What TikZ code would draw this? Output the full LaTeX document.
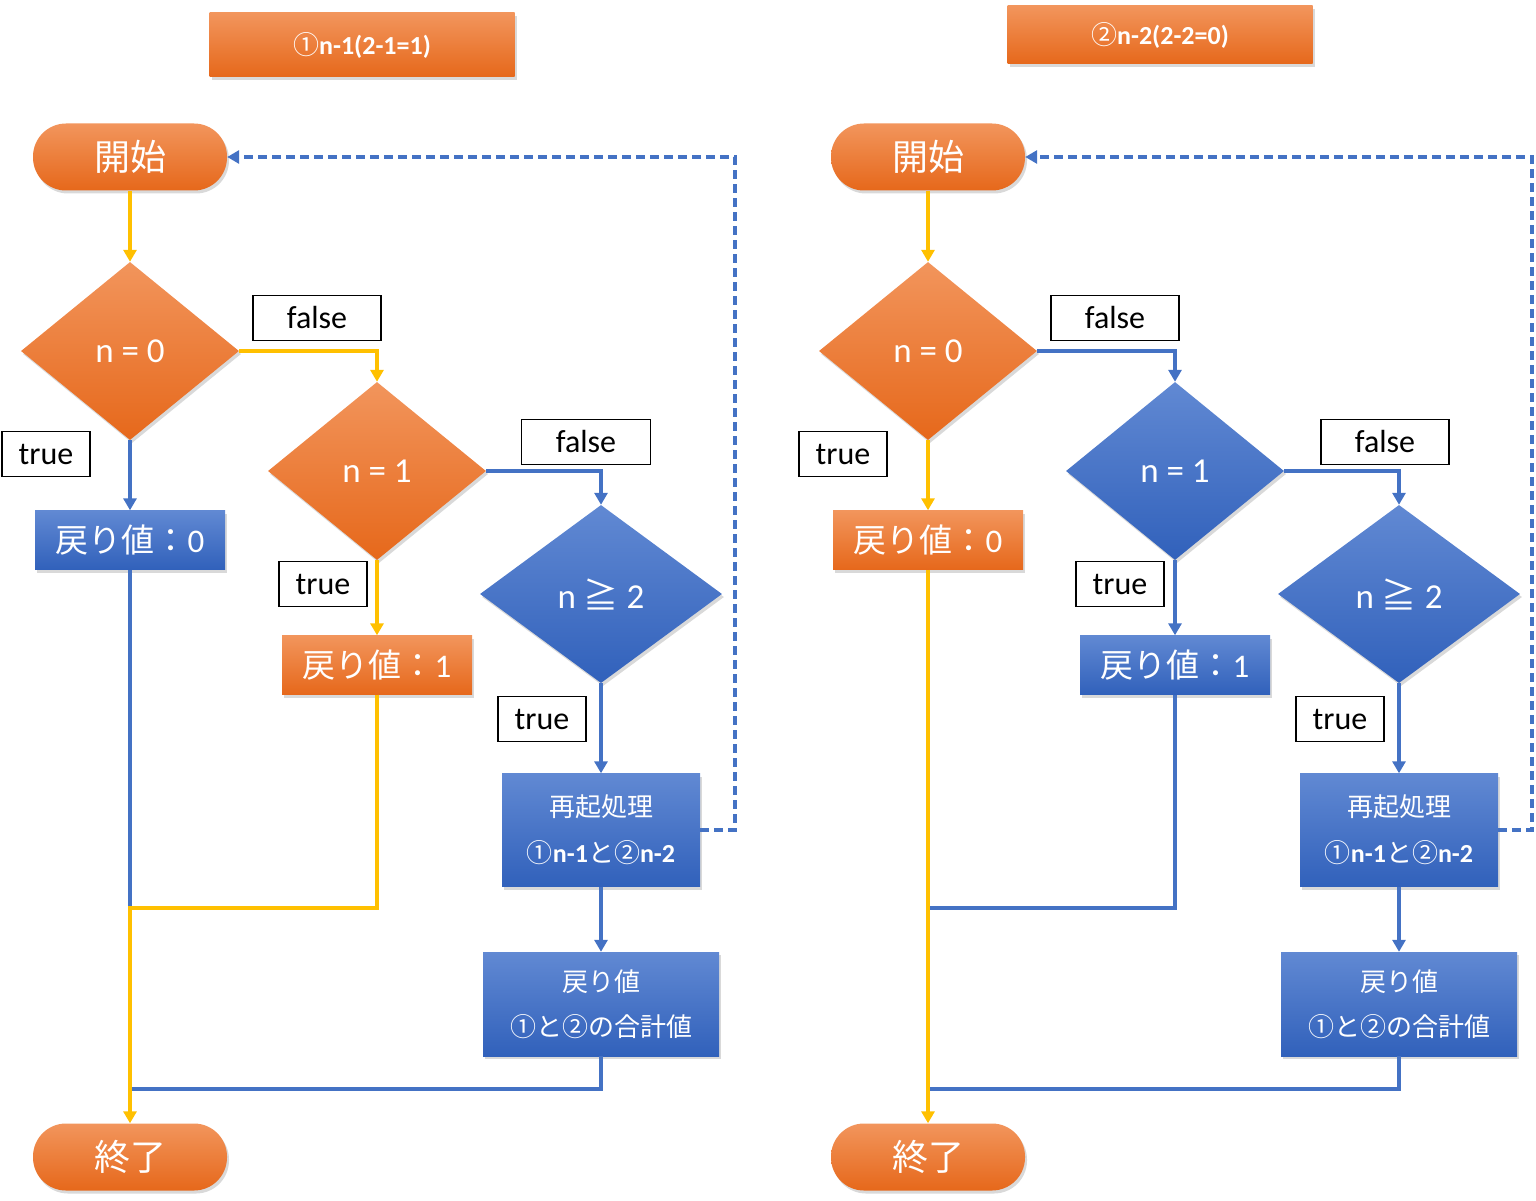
\documentclass[tikz,border=0pt]{standalone}
\usepackage{fontspec}
\setmainfont{Carlito}
\newfontfamily\jpfont{Noto Sans CJK JP}
\usetikzlibrary{arrows.meta,shapes.geometric,shadows}

\definecolor{orgT}{HTML}{F2955C}
\definecolor{orgB}{HTML}{E6681B}
\definecolor{bluT}{HTML}{6189D3}
\definecolor{bluB}{HTML}{3161BB}
\definecolor{lineY}{HTML}{FFC000}
\definecolor{lineB}{HTML}{4472C4}

\tikzset{
  flowtip/.style={-{Triangle[length=12pt,width=13pt]}},
  ylwline/.style={draw=lineY, line width=4pt},
  bluline/.style={draw=lineB, line width=4pt},
  loopline/.style={draw=lineB, line width=4pt, dash pattern=on 9pt off 5pt},
  softshadow/.style={drop shadow={shadow xshift=2pt, shadow yshift=-3pt, opacity=0.3}},
  orgfill/.style={top color=orgT, bottom color=orgB, softshadow},
  blufill/.style={top color=bluT, bottom color=bluB, softshadow},
  titlebox/.style={minimum width=305pt, inner sep=0pt, text=white,
    font=\fontsize{26}{30}\selectfont},
  termbox/.style={rounded corners=33pt, minimum width=194pt, minimum height=67pt,
    inner sep=0pt, text=white, font=\fontsize{36}{40}\selectfont\jpfont},
  decbox/.style={diamond, minimum width=218pt, minimum height=178pt, inner sep=0pt,
    text=white, font=\fontsize{35}{40}\selectfont},
  retbox/.style={minimum width=190pt, minimum height=59pt, inner sep=0pt,
    text=white, font=\fontsize{33}{38}\selectfont},
  procbox/.style={minimum width=198pt, minimum height=113pt, inner sep=0pt, align=center,
    text=white, font=\fontsize{26}{46}\selectfont},
  sumbox/.style={minimum width=236pt, minimum height=104pt, inner sep=0pt, align=center,
    text=white, font=\fontsize{26}{45}\selectfont\jpfont},
  tagbox/.style={draw=black, line width=1.5pt, fill=white, minimum height=45pt,
    inner sep=0pt, font=\fontsize{32}{36}\selectfont}
}

\begin{document}
\begin{tikzpicture}[x=1pt, y=-1pt]

  %% ════ 标题 ════
  \node[titlebox, orgfill, minimum height=64pt] (ltitle) at (362,45) {{\jpfont ①}\textbf{n-1(2-1=1)}};
  \node[titlebox, orgfill, minimum height=58pt] (rtitle) at (1160,35) {{\jpfont ②}\textbf{n-2(2-2=0)}};

  %% ════ 左图：节点 ════
  \node[termbox, orgfill] (lstart) at (130,157) {開始};
  \node[decbox, orgfill] (ln0) at (130,351) {n = 0};
  \node[decbox, orgfill] (ln1) at (377,471) {n = 1};
  \node[decbox, blufill, minimum width=242pt] (ln2) at (601,594) {n {\jpfont ≧} 2};
  \node[retbox, blufill] (lret0) at (130,540) {{\jpfont 戻り値：}0};
  \node[retbox, orgfill] (lret1) at (377,665) {{\jpfont 戻り値：}1};
  \node[procbox, blufill] (lrec) at (601,830) {{\jpfont 再起処理}\\{\jpfont ①}\textbf{n-1}{\jpfont と②}\textbf{n-2}};
  \node[sumbox, blufill] (lsum) at (601,1004) {戻り値\\①と②の合計値};
  \node[termbox, orgfill] (lend) at (130,1157) {終了};

  \node[tagbox, minimum width=128pt] (lf0) at (317,318) {false};
  \node[tagbox, minimum width=88pt] (lt0) at (46,454) {true};
  \node[tagbox, minimum width=129pt] (lf1) at (586,442) {false};
  \node[tagbox, minimum width=88pt] (lt1) at (323,584) {true};
  \node[tagbox, minimum width=88pt] (lt2) at (542,719) {true};

  %% ════ 左图：连线 ════
  \coordinate (lj1) at (130,908);
  \coordinate (lj2) at (130,1089);
  \coordinate (lloop) at (735,830);
  \draw[ylwline, flowtip] (lstart) -- (ln0);
  \draw[ylwline, flowtip] (ln0.east) -| (ln1.north);
  \draw[bluline, flowtip] (ln0) -- (lret0);
  \draw[bluline, flowtip] (ln1.east) -| (ln2.north);
  \draw[ylwline, flowtip] (ln1) -- (lret1);
  \draw[bluline, flowtip] (ln2) -- (lrec);
  \draw[bluline, flowtip] (lrec) -- (lsum);
  \draw[bluline] (lret0) -- (lj1);
  \draw[bluline] (lsum) |- (lj2);
  \draw[ylwline, flowtip] (lret1) |- (lj1) -- (lend);
  \draw[loopline, flowtip] (lrec) -- (lloop) |- (lstart);

  %% ════ 右图：节点 ════
  \node[termbox, orgfill] (rstart) at (928,157) {開始};
  \node[decbox, orgfill] (rn0) at (928,351) {n = 0};
  \node[decbox, blufill] (rn1) at (1175,471) {n = 1};
  \node[decbox, blufill, minimum width=242pt] (rn2) at (1399,594) {n {\jpfont ≧} 2};
  \node[retbox, orgfill] (rret0) at (928,540) {{\jpfont 戻り値：}0};
  \node[retbox, blufill] (rret1) at (1175,665) {{\jpfont 戻り値：}1};
  \node[procbox, blufill] (rrec) at (1399,830) {{\jpfont 再起処理}\\{\jpfont ①}\textbf{n-1}{\jpfont と②}\textbf{n-2}};
  \node[sumbox, blufill] (rsum) at (1399,1004) {戻り値\\①と②の合計値};
  \node[termbox, orgfill] (rend) at (928,1157) {終了};

  \node[tagbox, minimum width=128pt] (rf0) at (1115,318) {false};
  \node[tagbox, minimum width=88pt] (rt0) at (843,454) {true};
  \node[tagbox, minimum width=128pt] (rf1) at (1385,442) {false};
  \node[tagbox, minimum width=88pt] (rt1) at (1120,584) {true};
  \node[tagbox, minimum width=88pt] (rt2) at (1340,719) {true};

  %% ════ 右图：连线 ════
  \coordinate (rj1) at (928,908);
  \coordinate (rj2) at (928,1089);
  \coordinate (rloop) at (1532,830);
  \draw[ylwline, flowtip] (rstart) -- (rn0);
  \draw[bluline, flowtip] (rn0.east) -| (rn1.north);
  \draw[ylwline, flowtip] (rn0) -- (rret0);
  \draw[bluline, flowtip] (rn1.east) -| (rn2.north);
  \draw[bluline, flowtip] (rn1) -- (rret1);
  \draw[bluline, flowtip] (rn2) -- (rrec);
  \draw[bluline, flowtip] (rrec) -- (rsum);
  \draw[bluline] (rret1) |- (rj1);
  \draw[bluline] (rsum) |- (rj2);
  \draw[ylwline, flowtip] (rret0) -- (rend);
  \draw[loopline, flowtip] (rrec) -- (rloop) |- (rstart);

  % 钉死画布
  \pgfresetboundingbox
  \path[use as bounding box] (0,0) rectangle (1536,1201);
\end{tikzpicture}
\end{document}
